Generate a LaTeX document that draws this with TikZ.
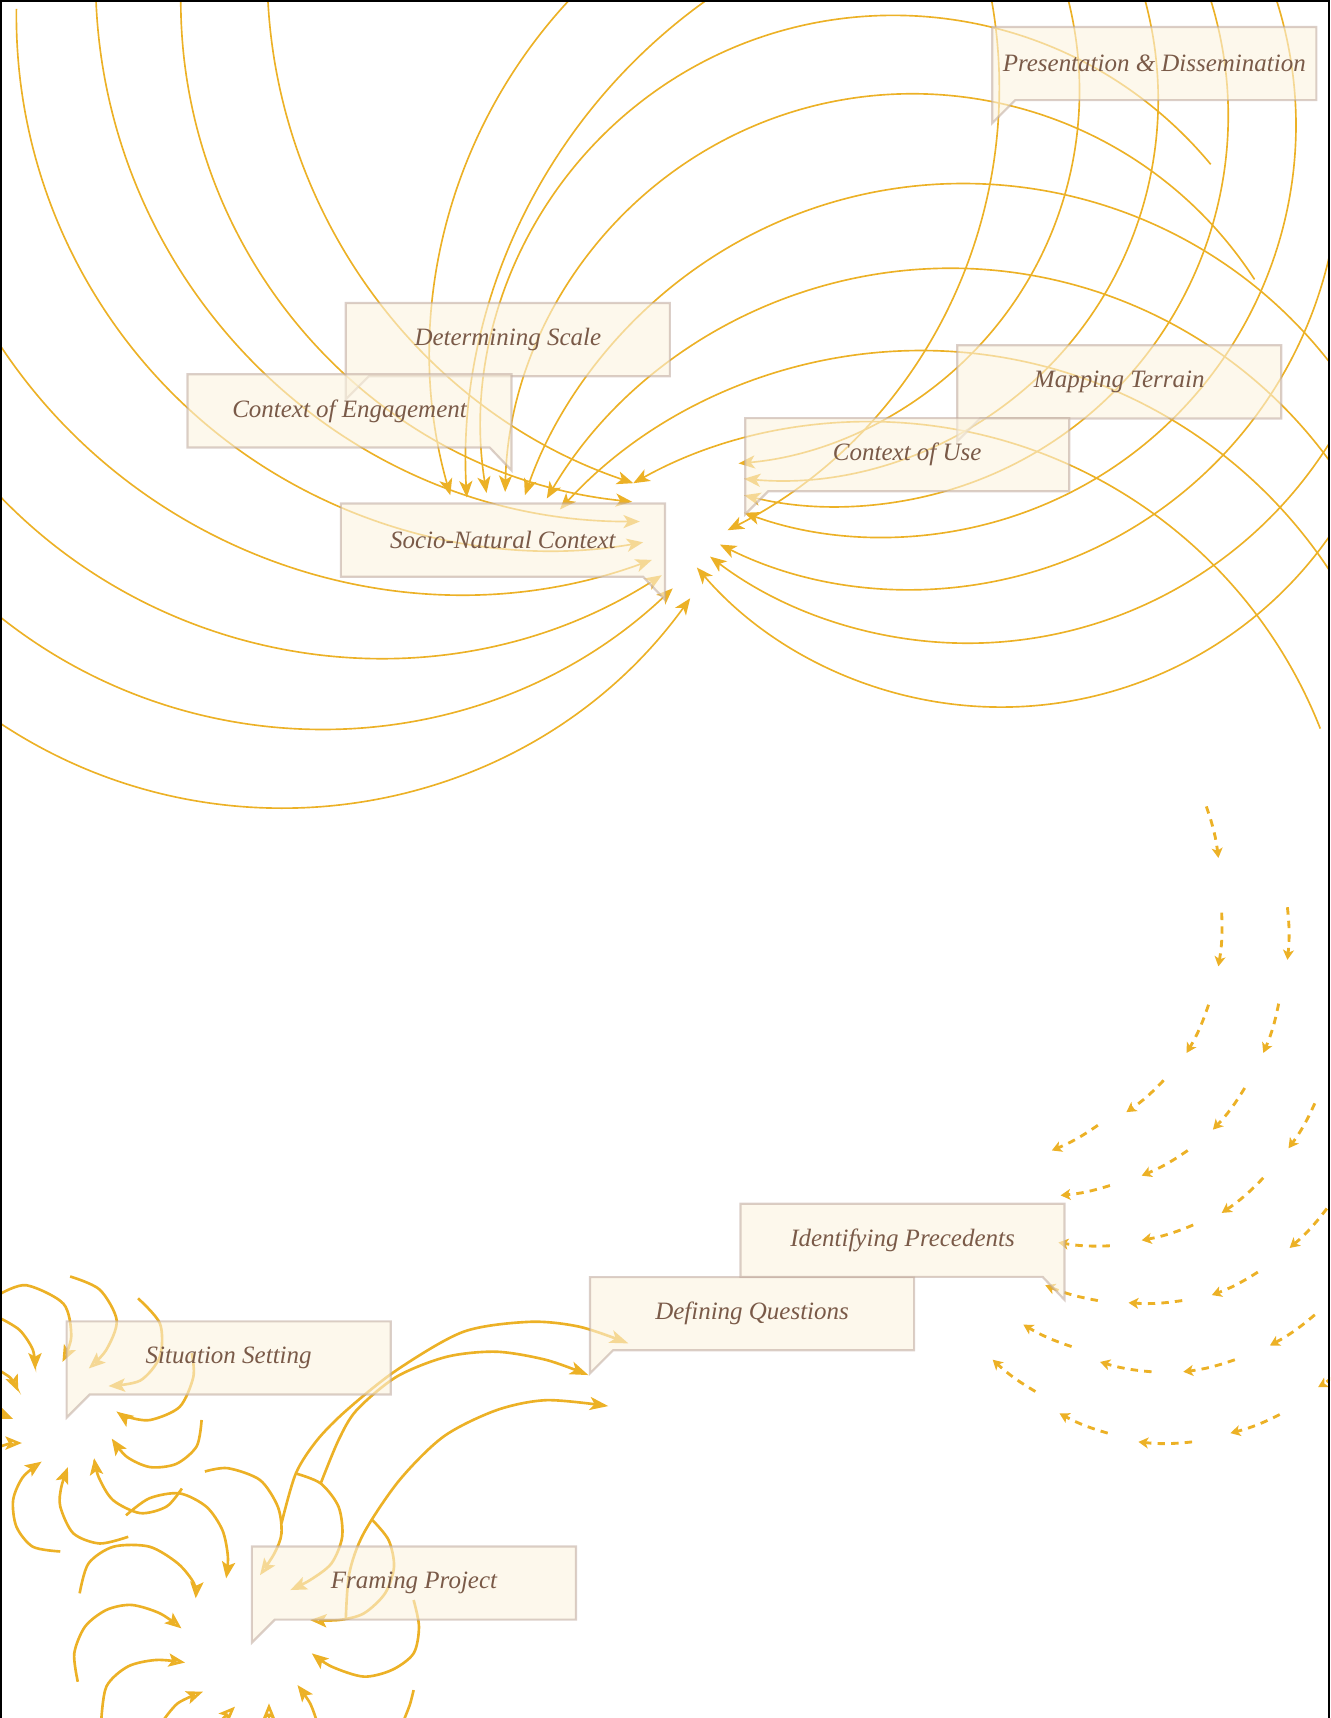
\documentclass[tikz,border=0pt]{standalone}
\usepackage{fontspec}
\setmainfont{Liberation Serif}
\usetikzlibrary{arrows.meta,calc}
\definecolor{gold}{RGB}{236,177,38}
\definecolor{boxfill}{RGB}{251,243,223}
\definecolor{boxline}{RGB}{190,168,156}
\definecolor{txt}{RGB}{122,90,72}
\pgfdeclarelayer{lines}\pgfdeclarelayer{boxes}
\pgfsetlayers{lines,boxes,main}
% circular arc from A through B to C (screen pixel coordinates, y downwards)
\newcommand\tparc[7]{%
 \pgfmathsetmacro\TAx{(#2)/100}%
 \pgfmathsetmacro\TAy{-(#3)/100}%
 \pgfmathsetmacro\TBx{(#4)/100}%
 \pgfmathsetmacro\TBy{-(#5)/100}%
 \pgfmathsetmacro\TCx{(#6)/100}%
 \pgfmathsetmacro\TCy{-(#7)/100}%
 \pgfmathsetmacro\TD{2*((\TAx)*((\TBy)-(\TCy))+(\TBx)*((\TCy)-(\TAy))+(\TCx)*((\TAy)-(\TBy)))}%
 \pgfmathsetmacro\TSa{(\TAx)*(\TAx)+(\TAy)*(\TAy)}%
 \pgfmathsetmacro\TSb{(\TBx)*(\TBx)+(\TBy)*(\TBy)}%
 \pgfmathsetmacro\TSc{(\TCx)*(\TCx)+(\TCy)*(\TCy)}%
 \pgfmathsetmacro\TUx{((\TSa)*((\TBy)-(\TCy))+(\TSb)*((\TCy)-(\TAy))+(\TSc)*((\TAy)-(\TBy)))/(\TD)}%
 \pgfmathsetmacro\TUy{((\TSa)*((\TCx)-(\TBx))+(\TSb)*((\TAx)-(\TCx))+(\TSc)*((\TBx)-(\TAx)))/(\TD)}%
 \pgfmathsetmacro\TR{100*veclen((\TAx)-(\TUx),(\TAy)-(\TUy))}%
 \pgfmathsetmacro\TTa{atan2((\TAy)-(\TUy),(\TAx)-(\TUx))}%
 \pgfmathsetmacro\TTc{atan2((\TCy)-(\TUy),(\TCx)-(\TUx))}%
 \pgfmathsetmacro\TCr{((\TBx)-(\TAx))*((\TCy)-(\TAy))-((\TBy)-(\TAy))*((\TCx)-(\TAx))}%
 \pgfmathsetmacro\TDl{(\TCr)>0 ? mod((\TTc)-(\TTa)+720,360) : -mod((\TTa)-(\TTc)+720,360)}%
 \draw[#1] (#2,-#3) arc[start angle=\TTa, delta angle=\TDl, radius=\TR];%
}
\tikzset{
 thinarc/.style={draw=gold, line width=0.75pt, -{Stealth[length=7.5pt,width=6pt,inset=2pt]}},
 openarc/.style={draw=gold, line width=1.2pt, -{Stealth[open,length=7.5pt,width=6pt,inset=1.6pt]}},
 plainthick/.style={draw=gold, line width=1.2pt},
 fillarc/.style={draw=gold, line width=1.2pt, -{Stealth[length=8.5pt,width=6pt,inset=2.2pt]}},
 dasharc/.style={draw=gold, line width=1.3pt, dash pattern=on 3.4pt off 2.8pt, -{Stealth[length=4.5pt,width=5pt,inset=1.2pt]}},
 lbl/.style={minimum width=147.5pt, minimum height=33pt, inner sep=0pt, text=txt, font=\fontsize{11.4}{13}\selectfont\itshape},
 callout/.style={fill=boxfill, fill opacity=0.6, draw=boxline, draw opacity=0.55, line width=1pt, line join=miter},
}
\begin{document}
\begin{tikzpicture}[x=0.5pt,y=0.5pt]
\useasboundingbox (0,0) rectangle (1214,-1568);

% ---------- labels ----------
\node[lbl] (pd)  at (1053.5,-58)   {Presentation \& Dissemination};
\node[lbl] (ds)  at (463.5,-310)   {Determining Scale};
\node[lbl] (ce)  at (319,-375)     {Context of Engagement};
\node[lbl] (snc) at (459,-493)     {Socio-Natural Context};
\node[lbl] (mt)  at (1021.5,-348.5){Mapping Terrain};
\node[lbl] (cu)  at (828,-415)     {Context of Use};
\node[lbl] (ip)  at (823.7,-1132)  {Identifying Precedents};
\node[lbl] (dq)  at (686.4,-1199)  {Defining Questions};
\node[lbl] (ss)  at (208.7,-1239.4){Situation Setting};
\node[lbl] (fp)  at (377.8,-1444.8){Framing Project};

% ---------- callout boxes ----------
\begin{pgfonlayer}{boxes}
\foreach \n in {pd,ds,mt,cu,dq,ss,fp}{
 \path[callout] (\n.north west) -- (\n.north east) -- (\n.south east)
   -- ([xshift=10.5pt]\n.south west) -- ([yshift=-10.5pt]\n.south west) -- cycle;
}
\foreach \n in {ce,snc,ip}{
 \path[callout] (\n.north west) -- (\n.north east) -- ([yshift=-10.5pt]\n.south east)
   -- ([xshift=-10pt]\n.south east) -- (\n.south west) -- cycle;
}
\end{pgfonlayer}

% ---------- lines ----------
\begin{pgfonlayer}{lines}
\begin{scope}
\clip (0,0) rectangle (1214,-1568);
% left edge family
\tparc{thinarc}{0}{315}{380}{540}{595}{511}
\tparc{thinarc}{0}{453}{340}{600}{604}{525}
\tparc{thinarc}{0}{563}{285}{665}{614}{537}
\tparc{thinarc}{0}{660}{245}{737}{630}{546}
% top-left family
\tparc{thinarc}{244.5}{0}{334}{258.6}{578}{441}
\tparc{thinarc}{165}{0}{293.4}{319.5}{577}{458}
\tparc{thinarc}{87.6}{0}{183.4}{273.8}{584}{476}
\tparc{thinarc}{15}{8}{122}{319.5}{587}{495}
% top arrows family
\tparc{thinarc}{519.6}{0}{393.2}{304}{411}{452}
\tparc{thinarc}{645}{0}{448}{273.8}{426}{454}
\tparc{thinarc}{1105}{150}{870}{18}{444}{450}
\tparc{thinarc}{1145}{255}{890}{90}{461}{449}
\tparc{thinarc}{1213}{330}{900}{168}{479}{452}
\tparc{thinarc}{1213}{420}{880}{245}{499}{455}
\tparc{thinarc}{1213}{520}{850}{320}{511}{465}
\tparc{thinarc}{1205}{665}{806}{385}{578}{441}
% top-right family (nearly vertical at the top)
\tparc{thinarc}{905}{0}{911}{110}{664}{484}
\tparc{thinarc}{975}{0}{982}{130}{674}{423}
\tparc{thinarc}{1045}{0}{1052}{150}{679}{437}
\tparc{thinarc}{1105}{0}{1115}{170}{679}{452}
\tparc{thinarc}{1165}{0}{1175}{190}{679}{468}
% lower-right family
\tparc{thinarc}{1213}{235}{840}{538}{657}{497}
\tparc{thinarc}{1213}{405}{890}{587}{648}{508}
\tparc{thinarc}{1213}{490}{930}{645}{636}{518}

% ---------- dashed arcs ----------
\foreach \a/\b/\c/\d in {1101/736/1112/783, 1115/833/1112/882, 1103/917/1083/961, 1062/986/1028/1015, 1002/1027/960/1050,
 1175/828/1175/876, 1167/916/1153/961, 1136/993/1107/1031, 1084/1050/1042/1073, 1013/1082/968/1091,
 1200/1007/1176/1048, 1153/1075/1115/1107, 1089/1118/1042/1132, 1013/1137/966/1134,
 1211/1103/1177/1139, 1148/1161/1106/1182, 1079/1187/1030/1189, 1002/1187/954/1173,
 1200/1200/1159/1228, 1127/1241/1080/1252, 1051/1252/1004/1243, 978/1229/934/1209,
 1216/1257/1203/1266, 1168/1291/1123/1308, 1088/1316/1039/1316, 1011/1308/967/1290, 945/1270/906/1241}{
 \draw[dasharc] (\a,-\b) to[bend left=6] (\c,-\d);
}

% ---------- situation setting swirl ----------
\draw[openarc] plot[smooth] coordinates {(0,-1181) (24,-1173) (58,-1190) (65,-1220) (57,-1243)};
\draw[openarc] plot[smooth] coordinates {(0,-1203) (18,-1214) (30,-1232) (32,-1250)};
\draw[openarc] plot[smooth] coordinates {(64,-1165) (91,-1177) (106.5,-1205) (97,-1232) (81,-1249)};
\draw[openarc] plot[smooth] coordinates {(126,-1185) (146,-1208) (146,-1238) (128,-1260) (99,-1265)};
\draw[openarc] plot[smooth] coordinates {(175,-1235) (176.5,-1256.5) (164,-1284) (137,-1296) (115.6,-1293) (106.5,-1288.5)};
\draw[openarc] plot[smooth] coordinates {(184,-1296) (179.5,-1320) (161,-1336) (137,-1339) (115.6,-1329.5) (102,-1313)};
\draw[openarc] plot[smooth] coordinates {(166,-1358.5) (152,-1375) (128,-1381) (103,-1369) (90,-1348) (86,-1331)};
\draw[openarc] plot[smooth] coordinates {(117,-1402.6) (91,-1408.7) (67,-1399.5) (55,-1375) (56,-1357) (62,-1339)};
\draw[openarc] plot[smooth] coordinates {(55,-1416) (30,-1411.7) (15,-1393.4) (12,-1369) (21,-1348) (38,-1334)};
\draw[openarc] plot[smooth] coordinates {(-2,-1250) (10,-1258) (16.7,-1270)};
\draw[openarc] (-2,-1286) to[bend right=10] (12,-1295);
\draw[openarc] (-2,-1321) to[bend left=10] (20,-1317);

% ---------- framing project swirl ----------
\draw[openarc] plot[smooth] coordinates {(187,-1343) (208,-1340) (237.3,-1350.8) (253.6,-1375.2) (256.9,-1399.5) (250.4,-1417.8) (237.3,-1437.6)};
\draw[openarc] plot[smooth] coordinates {(270,-1344.8) (292.7,-1353.9) (309,-1375.2) (312.3,-1402.6) (302.5,-1426.9) (283,-1442.1) (265,-1451.2)};
\draw[openarc] plot[smooth] coordinates {(340,-1387.4) (354.7,-1405.6) (359.6,-1430) (351.4,-1454.3) (331.9,-1472.6) (309,-1478.6) (283,-1478.6)};
\draw[openarc] plot[smooth] coordinates {(377.5,-1460.3) (382.4,-1484.6) (377.5,-1509) (358,-1524) (332,-1530.2) (302.5,-1521) (284.6,-1509)};
\draw[plainthick] plot[smooth] coordinates {(377.5,-1542.5) (374,-1556) (367.7,-1572)};
\draw[openarc] plot[smooth] coordinates {(115,-1383) (136.3,-1367.5) (164,-1363) (188.4,-1375.2) (203,-1396.5) (208,-1420.8) (206.4,-1440.5)};
\draw[openarc] plot[smooth] coordinates {(72.7,-1454.2) (80.8,-1426.9) (103.7,-1411.6) (136.3,-1411.6) (162.3,-1426.9) (177,-1445) (178.6,-1458.8)};
\draw[openarc] plot[smooth] coordinates {(71,-1534.9) (67.8,-1509) (77.6,-1484.6) (97,-1469.4) (120,-1464.8) (146,-1472.5) (165.6,-1486.2)};
\draw[openarc] plot[smooth] coordinates {(92.3,-1572) (97.1,-1539.3) (116.7,-1521) (142.8,-1515) (168.9,-1517.4)};
\draw[openarc] plot[smooth] coordinates {(147.7,-1572) (162.3,-1554.5) (185.2,-1544)};
\draw[openarc] (198,-1574) -- (214.5,-1557.6);
\draw[openarc] (245.5,-1574) -- (245.5,-1554.6);
\draw[openarc] plot[smooth] coordinates {(289.5,-1572) (283,-1554.5) (271.5,-1537.9)};

% ---------- long arrows to Defining Questions ----------
\draw[fillarc] plot[smooth] coordinates {(256.9,-1390.4) (270,-1344.8) (289.5,-1314.3) (316.4,-1287) (362,-1250.5) (422.9,-1215.5) (483.7,-1206.4) (529.4,-1211) (573.5,-1226.1)};
\draw[fillarc] plot[smooth] coordinates {(292.7,-1353.9) (309,-1314.3) (325.5,-1287) (362,-1256.5) (407.7,-1238.3) (453.3,-1233.7) (499,-1241.3) (537,-1255)};
\draw[fillarc] plot[smooth] coordinates {(315.6,-1478.5) (318.8,-1436) (331.9,-1399.5) (364.5,-1351) (405,-1311) (453.3,-1287) (499,-1277.9) (555.2,-1283.3)};
\end{scope}
\end{pgfonlayer}

% ---------- frame ----------
\draw[line width=0.8pt] (0.8,-1568) -- (0.8,-0.8) -- (1213.2,-0.8) -- (1213.2,-1568);
\end{tikzpicture}
\end{document}
